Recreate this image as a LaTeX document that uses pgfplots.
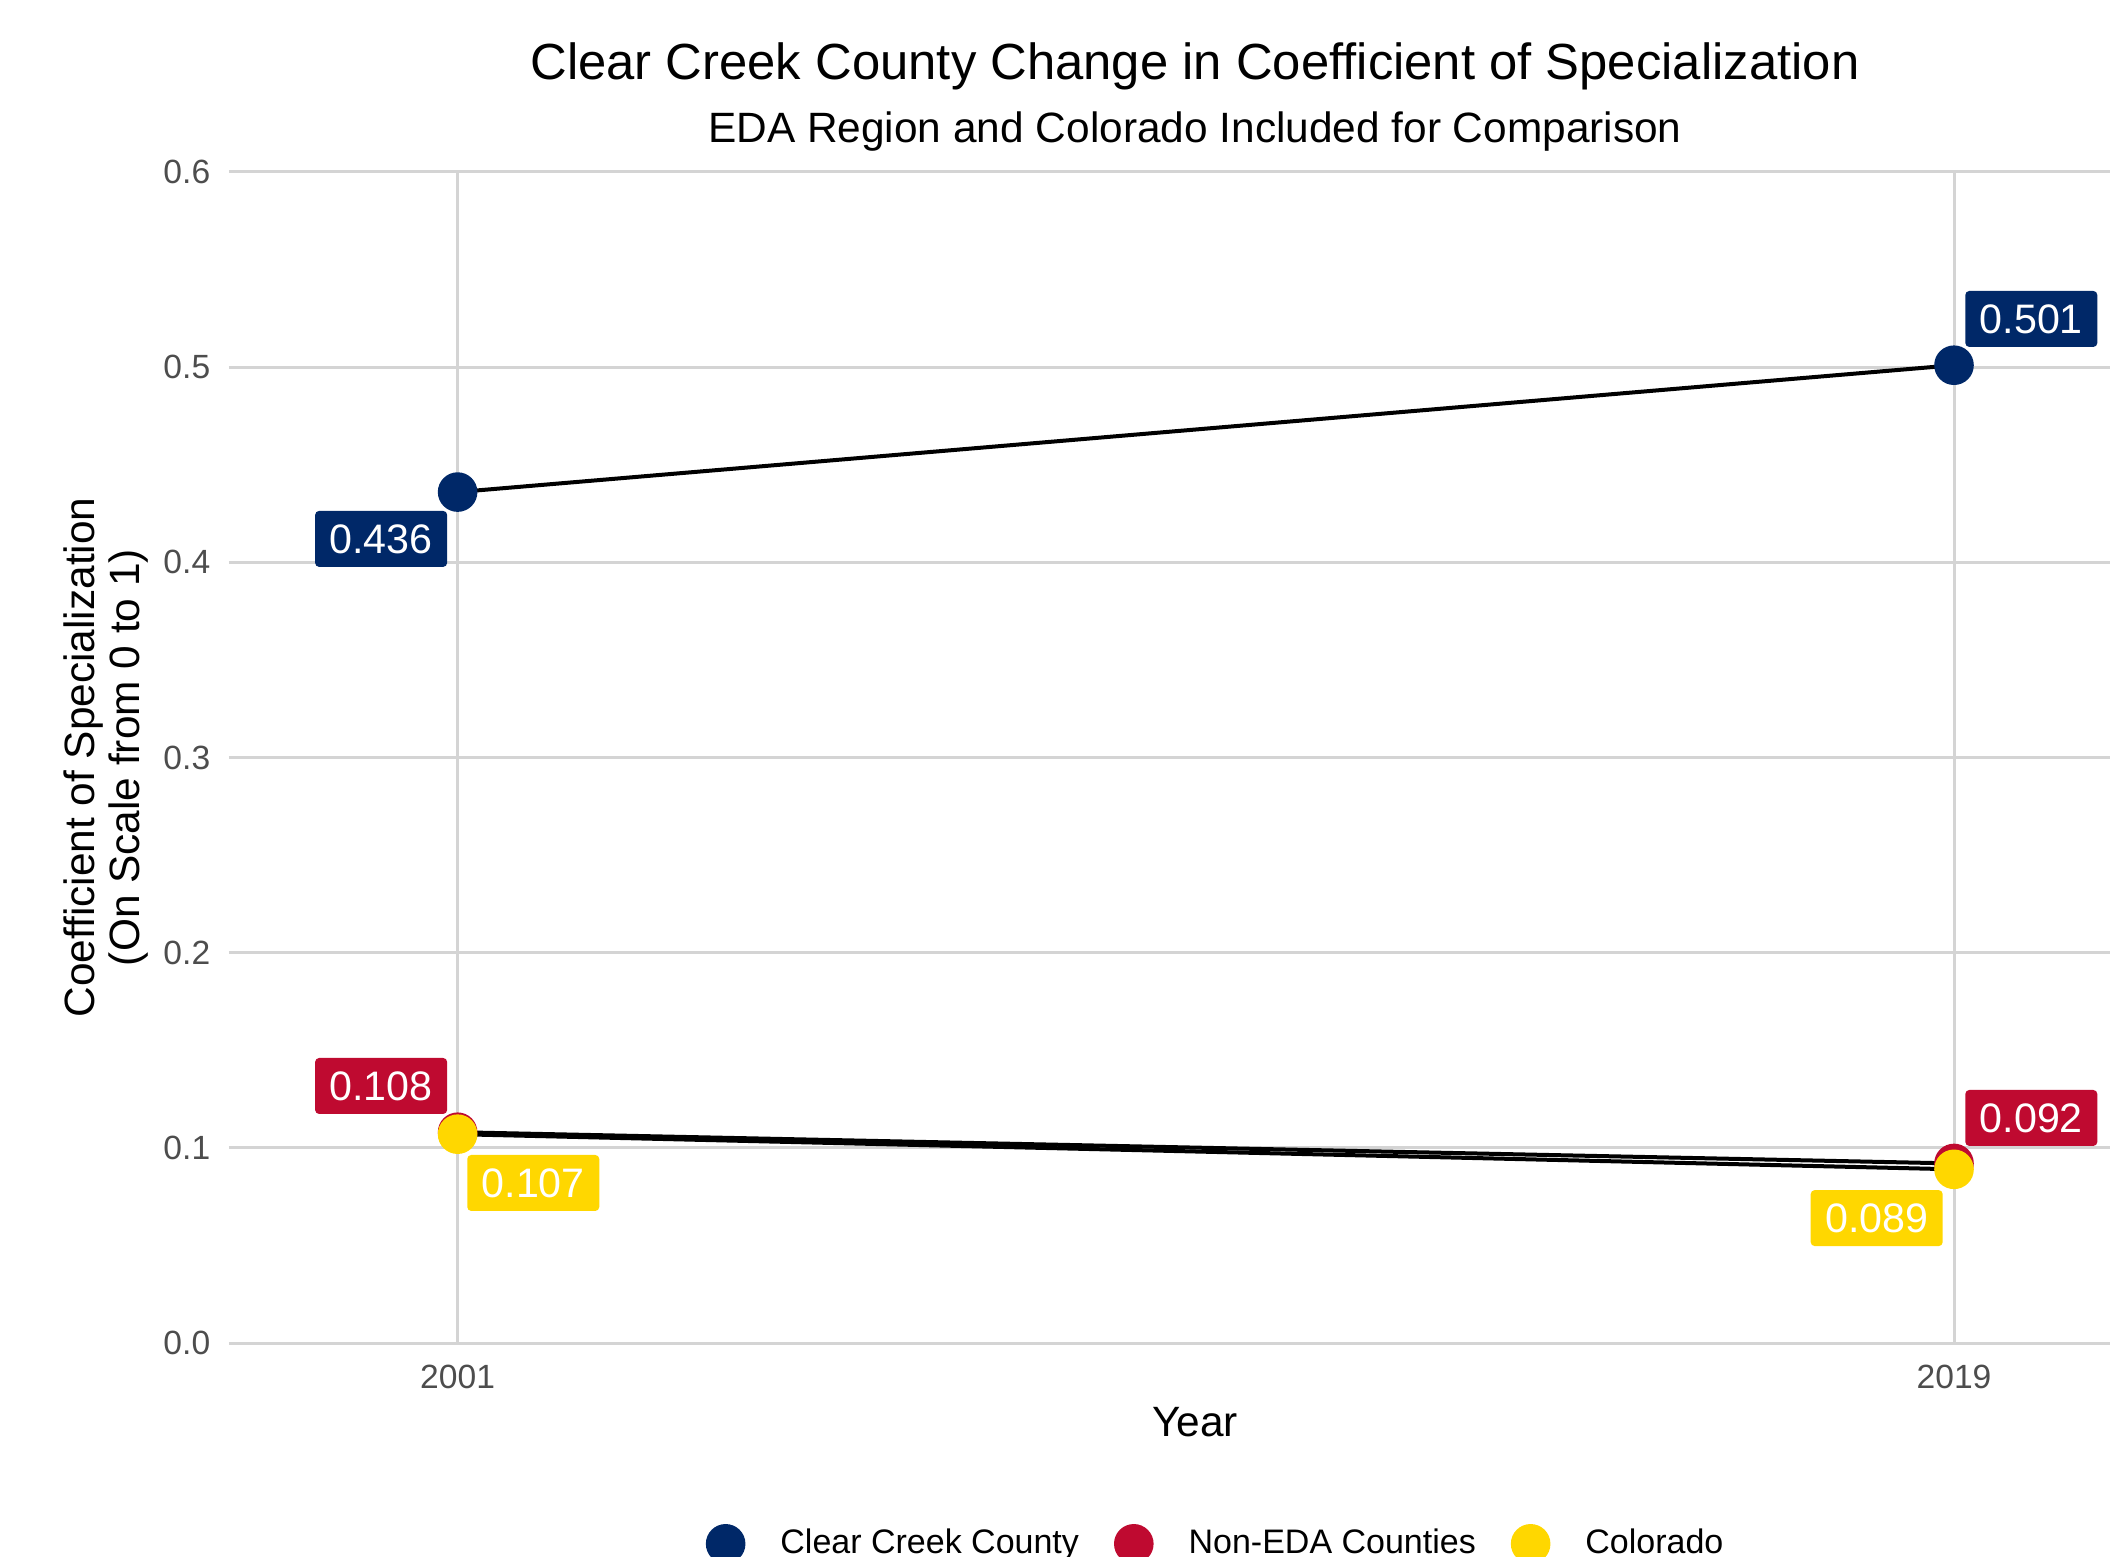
\documentclass[border=0pt]{standalone}
\usepackage{fontspec}
\setmainfont{Liberation Sans}
\usepackage{pgfplots}
\pgfplotsset{compat=1.18}
\definecolor{ccblue}{HTML}{002868}
\definecolor{ccred}{HTML}{BF0A30}
\definecolor{ccgold}{HTML}{FFD700}
\definecolor{gridgray}{HTML}{D4D4D4}
\definecolor{tickgray}{HTML}{4D4D4D}
\tikzset{lab/.style={rounded corners=1pt, text=white, minimum width=33pt, minimum height=14pt, inner sep=0pt, font=\fontsize{10.3}{12}\selectfont}}
\begin{document}
\begin{tikzpicture}
\path[use as bounding box] (0pt,0pt) rectangle (527.5pt,389pt);
\node[font=\fontsize{12.7}{15}\selectfont] at (298.75pt,372.5pt) {Clear Creek County Change in Coefficient of Specialization};
\node[font=\fontsize{10.6}{13}\selectfont] at (298.75pt,356.1pt) {EDA Region and Colorado Included for Comparison};
\begin{axis}[
  at={(57.25pt,53.25pt)}, anchor=south west,
  scale only axis, width=483pt, height=292.75pt,
  xmin=1998.25, xmax=2021.49, ymin=0, ymax=0.6,
  xtick={2001,2019}, xticklabels={2001,2019},
  ytick={0,0.1,0.2,0.3,0.4,0.5,0.6},
  yticklabel style={/pgf/number format/fixed, /pgf/number format/fixed zerofill, /pgf/number format/precision=1, /pgf/number format/assume math mode=true},
  yticklabel style={anchor=east, inner sep=0pt, xshift=-4.5pt},
  xticklabel style={anchor=center, inner sep=0pt, yshift=-8.5pt},
  ticklabel style={font=\fontsize{8.4}{10}\selectfont, text=tickgray},
  axis line style={draw=none},
  major tick length=0pt,
  grid=major, grid style={gridgray, line width=0.75pt},
  xlabel={Year},
  xlabel style={at={(axis description cs:0.5,-0.0675)}, anchor=center, font=\fontsize{10.6}{13}\selectfont},
  ylabel={Coefficient of Specialization\\(On Scale from 0 to 1)},
  ylabel style={at={(axis description cs:-0.0639,0.5)}, anchor=center, align=center, font=\fontsize{10.6}{11.25}\selectfont},
  clip=false,
  legend columns=3,
  legend image code/.code={\fill[#1] (0pt,0pt) circle (4.75pt);},
  legend style={at={(axis description cs:0.2464,-0.1715)}, anchor=west, draw=none, fill=none, inner sep=0pt,
    font=\fontsize{8.5}{10}\selectfont, nodes={inner sep=0pt},
    /tikz/every odd column/.append style={column sep=8.75pt},
    /tikz/every even column/.append style={column sep=8.75pt}},
]
\addplot[black, line width=1pt, forget plot] table {
2001 0.436
2019 0.501
};
\addplot[black, line width=1pt, forget plot] table {
2001 0.108
2019 0.092
};
\addplot[black, line width=1pt, forget plot] table {
2001 0.107
2019 0.089
};
\addplot[only marks, mark=*, mark size=4.75pt, color=ccblue, mark options={draw=none, fill=ccblue}] table {
2001 0.436
2019 0.501
};
\addlegendentry{Clear Creek County}
\addplot[only marks, mark=*, mark size=4.75pt, color=ccred, mark options={draw=none, fill=ccred}] table {
2001 0.108
2019 0.092
};
\addlegendentry{Non-EDA Counties}
\addplot[only marks, mark=*, mark size=4.75pt, color=ccgold, mark options={draw=none, fill=ccgold}] table {
2001 0.107
2019 0.089
};
\addlegendentry{Colorado}
\node[lab, fill=ccblue] at (axis cs:2000.08,0.412) {0.436};
\node[lab, fill=ccblue] at (axis cs:2019.93,0.5247) {0.501};
\node[lab, fill=ccred] at (axis cs:2000.08,0.1317) {0.108};
\node[lab, fill=ccgold] at (axis cs:2001.91,0.0820) {0.107};
\node[lab, fill=ccred] at (axis cs:2019.93,0.1153) {0.092};
\node[lab, fill=ccgold] at (axis cs:2018.07,0.0640) {0.089};
\end{axis}
\end{tikzpicture}
\end{document}
